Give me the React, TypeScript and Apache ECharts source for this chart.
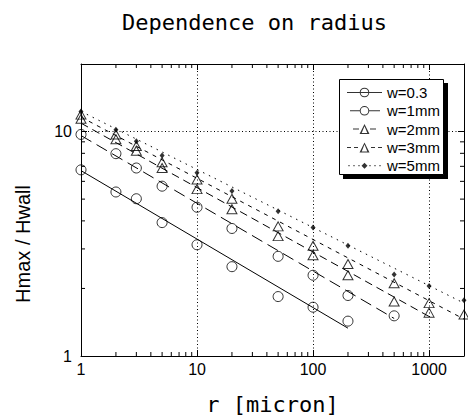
import React, { useEffect, useRef } from 'react';
import * as echarts from 'echarts';

// radius values (micron) where data were taken
const R_VALUES = [1, 2, 3, 5, 10, 20, 50, 100, 200, 500, 1000, 2000];
// Hmax / Hwall for each width w
const W03 = [6.75, 5.38, 5.02, 3.93, 3.13, 2.5, 1.84, 1.65, 1.43];
const W1 = [9.71, 7.97, 6.88, 5.71, 4.6, 3.7, 2.78, 2.29, 1.86, 1.51];
const W2 = [11.4, 9.24, 8.22, 6.88, 5.54, 4.51, 3.42, 2.81, 2.29, 1.75, 1.56];
const W3 = [11.9, 9.71, 8.63, 7.3, 6.11, 5.02, 3.78, 3.1, 2.57, 2.11, 1.72, 1.53];
const W5 = [12.3, 10.2, 9.06, 7.82, 6.55, 5.43, 4.42, 3.74, 3.1, 2.31, 2.05, 1.77];

// power-law fit lines, [r, H] end points
const FIT03 = [[1, 6.7], [200, 1.33]];
const FIT1 = [[1, 9.6], [500, 1.47]];
const FIT2 = [[1, 10.9], [1000, 1.5]];
const FIT3 = [[1, 11.6], [2000, 1.46]];
const FIT5 = [[1, 12.3], [2000, 1.72]];

const SERIES_NAMES = ['w=0.3', 'w=1mm', 'w=2mm', 'w=3mm', 'w=5mm'];

const X_MIN = 1;
const X_MAX = 2000;
const Y_MIN = 1;
const Y_MAX = 20;
const X_MINOR = [2, 3, 4, 5, 6, 7, 8, 9, 20, 30, 40, 50, 60, 70, 80, 90, 200, 300, 400, 500, 600, 700, 800, 900];
const Y_MINOR = [2, 3, 4, 5, 6, 7, 8, 9];

const SANS = "'Liberation Sans', Arial, sans-serif";
const MONO = "'DejaVu Sans Mono', monospace";

// legend icon paths (35 x 14 box)
const seg = (a: number, b: number) => `M${a} 6.5L${b} 6.5L${b} 7.5L${a} 7.5Z`;
const dot = (x: number) => `M${x - 0.6} 6.4L${x + 0.6} 6.4L${x + 0.6} 7.6L${x - 0.6} 7.6Z`;
const ring = (cx: number, cy: number, r: number, t: number) => {
  const ri = r - t;
  return `M${cx - r} ${cy}A${r} ${r} 0 1 1 ${cx + r} ${cy}A${r} ${r} 0 1 1 ${cx - r} ${cy}Z` +
    `M${cx - ri} ${cy}A${ri} ${ri} 0 1 0 ${cx + ri} ${cy}A${ri} ${ri} 0 1 0 ${cx - ri} ${cy}Z`;
};
const tri = (cx: number, cy: number, s: number, t: number) => {
  const h = s / 2;
  return `M${cx} ${cy - h}L${cx + h} ${cy + h}L${cx - h} ${cy + h}Z` +
    `M${cx} ${cy - h + 2.2 * t}L${cx - h + 2.2 * t} ${cy + h - t}L${cx + h - 2.2 * t} ${cy + h - t}Z`;
};
const ANCHOR = 'M0 7L0 7ZM35 7L35 7Z';
const ICONS = [
  seg(0, 35) + ring(17.5, 7, 4.8, 1),
  ANCHOR + seg(3, 13) + seg(22, 33) + ring(17.5, 7, 4.8, 1),
  ANCHOR + seg(6, 12) + seg(23, 29) + tri(17.5, 7, 10, 1),
  seg(0, 4) + seg(7, 11) + seg(24, 28) + seg(31, 35) + tri(17.5, 7, 10, 1),
  ANCHOR + dot(2) + dot(7) + dot(12) + dot(23) + dot(28) + dot(33) + 'M17.5 4L20.5 7L17.5 10L14.5 7Z',
];

const pts = (vals: number[]) => vals.map((v, i) => [R_VALUES[i], v]);
const hollow = { color: 'transparent', borderColor: '#000', borderWidth: 1 };
const fitLine = (data: number[][], type: any) => ({
  type: 'line',
  data,
  symbol: 'none',
  silent: true,
  z: 2,
  lineStyle: { color: '#000', width: 1, type },
});

const labelFmt = (v: number) => String(Math.round(v));

const option: any = {
  animation: false,
  backgroundColor: '#fff',
  title: {
    text: 'Dependence on radius',
    left: 122,
    top: 11,
    padding: 0,
    textStyle: { fontFamily: MONO, fontSize: 22, fontWeight: 'normal', color: '#000' },
  },
  grid: { left: 81, top: 64, width: 383, height: 304 },
  legend: {
    orient: 'vertical',
    left: 347,
    top: 85,
    padding: 0,
    itemGap: 3.3,
    itemWidth: 35,
    itemHeight: 14,
    selectedMode: false,
    z: 10,
    itemStyle: { color: '#000', borderWidth: 0 },
    textStyle: { fontFamily: SANS, fontSize: 15, lineHeight: 14, color: '#000' },
    data: SERIES_NAMES.map((n, i) => ({ name: n, icon: 'path://' + ICONS[i] })),
  },
  graphic: [
    { type: 'rect', z: 5, silent: true, shape: { x: 343, y: 83, width: 105, height: 96 }, style: { fill: '#000' } },
    { type: 'rect', z: 6, silent: true, shape: { x: 339.5, y: 79.5, width: 104, height: 95 }, style: { fill: '#fff', stroke: '#000', lineWidth: 1 } },
  ],
  xAxis: [
    {
      type: 'log',
      logBase: 10,
      min: X_MIN,
      max: X_MAX,
      position: 'bottom',
      name: 'r [micron]',
      nameLocation: 'middle',
      nameGap: 37,
      nameTextStyle: { fontFamily: MONO, fontSize: 22, color: '#000' },
      axisLine: { show: true, lineStyle: { color: '#000', width: 1 } },
      axisTick: { show: true, inside: true, length: 6, lineStyle: { color: '#000' } },
      axisLabel: { margin: 5, fontSize: 16, fontFamily: SANS, color: '#000', showMaxLabel: false, formatter: labelFmt },
      splitLine: { show: true, lineStyle: { color: '#000', width: 1, type: [1, 2.5] } },
    },
    {
      type: 'log',
      logBase: 10,
      min: X_MIN,
      max: X_MAX,
      position: 'top',
      axisLine: { show: true, lineStyle: { color: '#000', width: 1 } },
      axisTick: { show: true, inside: true, length: 6, lineStyle: { color: '#000' } },
      axisLabel: { show: false },
      splitLine: { show: false },
    },
  ],
  yAxis: [
    {
      type: 'log',
      logBase: 10,
      min: Y_MIN,
      max: Y_MAX,
      position: 'left',
      name: 'Hmax / Hwall',
      nameLocation: 'middle',
      nameGap: 48,
      nameTextStyle: { fontFamily: SANS, fontSize: 20, color: '#000', padding: [0, 68, 0, 0] },
      axisLine: { show: true, lineStyle: { color: '#000', width: 1 } },
      axisTick: { show: true, inside: true, length: 6, lineStyle: { color: '#000' } },
      axisLabel: { margin: 9, fontSize: 16, fontFamily: SANS, color: '#000', showMaxLabel: false, formatter: labelFmt },
      splitLine: { show: true, lineStyle: { color: '#000', width: 1, type: [1, 2.5] } },
    },
    {
      type: 'log',
      logBase: 10,
      min: Y_MIN,
      max: Y_MAX,
      position: 'right',
      axisLine: { show: true, lineStyle: { color: '#000', width: 1 } },
      axisTick: { show: true, inside: true, length: 6, lineStyle: { color: '#000' } },
      axisLabel: { show: false },
      splitLine: { show: false },
    },
  ],
  series: [
    fitLine(FIT03, 'solid'),
    fitLine(FIT1, [12, 6]),
    fitLine(FIT2, [8, 5]),
    fitLine(FIT3, [4, 5]),
    fitLine(FIT5, [1.5, 5]),
    { name: SERIES_NAMES[0], type: 'scatter', data: pts(W03), symbol: 'circle', symbolSize: 10, itemStyle: hollow, z: 3 },
    { name: SERIES_NAMES[1], type: 'scatter', data: pts(W1), symbol: 'circle', symbolSize: 10, itemStyle: hollow, z: 3 },
    { name: SERIES_NAMES[2], type: 'scatter', data: pts(W2), symbol: 'triangle', symbolSize: [10, 9], itemStyle: hollow, z: 3 },
    { name: SERIES_NAMES[3], type: 'scatter', data: pts(W3), symbol: 'triangle', symbolSize: [10, 9], itemStyle: hollow, z: 3 },
    { name: SERIES_NAMES[4], type: 'scatter', data: pts(W5), symbol: 'diamond', symbolSize: [5, 6], itemStyle: { color: '#000' }, z: 3 },
    {
      type: 'custom',
      silent: true,
      z: 4,
      data: X_MINOR.map((v) => [v, Y_MIN]),
      renderItem: (_p: any, api: any) => {
        const v = api.value(0);
        const b = api.coord([v, Y_MIN]);
        const t = api.coord([v, Y_MAX]);
        return {
          type: 'group',
          children: [
            { type: 'line', shape: { x1: b[0], y1: b[1], x2: b[0], y2: b[1] - 4 }, style: { stroke: '#000', lineWidth: 1 } },
            { type: 'line', shape: { x1: t[0], y1: t[1], x2: t[0], y2: t[1] + 4 }, style: { stroke: '#000', lineWidth: 1 } },
          ],
        };
      },
    },
    {
      type: 'custom',
      silent: true,
      z: 4,
      data: Y_MINOR.map((v) => [X_MIN, v]),
      renderItem: (_p: any, api: any) => {
        const v = api.value(1);
        const l = api.coord([X_MIN, v]);
        const r = api.coord([X_MAX, v]);
        return {
          type: 'group',
          children: [
            { type: 'line', shape: { x1: l[0], y1: l[1], x2: l[0] + 4, y2: l[1] }, style: { stroke: '#000', lineWidth: 1 } },
            { type: 'line', shape: { x1: r[0], y1: r[1], x2: r[0] - 4, y2: r[1] }, style: { stroke: '#000', lineWidth: 1 } },
          ],
        };
      },
    },
  ],
};

export default function App() {
  const ref = useRef<HTMLDivElement>(null);
  useEffect(() => {
    document.body.style.margin = '0';
    const chart = echarts.init(ref.current!, undefined, { renderer: 'svg' });
    chart.setOption(option);
    return () => chart.dispose();
  }, []);
  return <div ref={ref} style={{ width: 468, height: 420 }} />;
}
